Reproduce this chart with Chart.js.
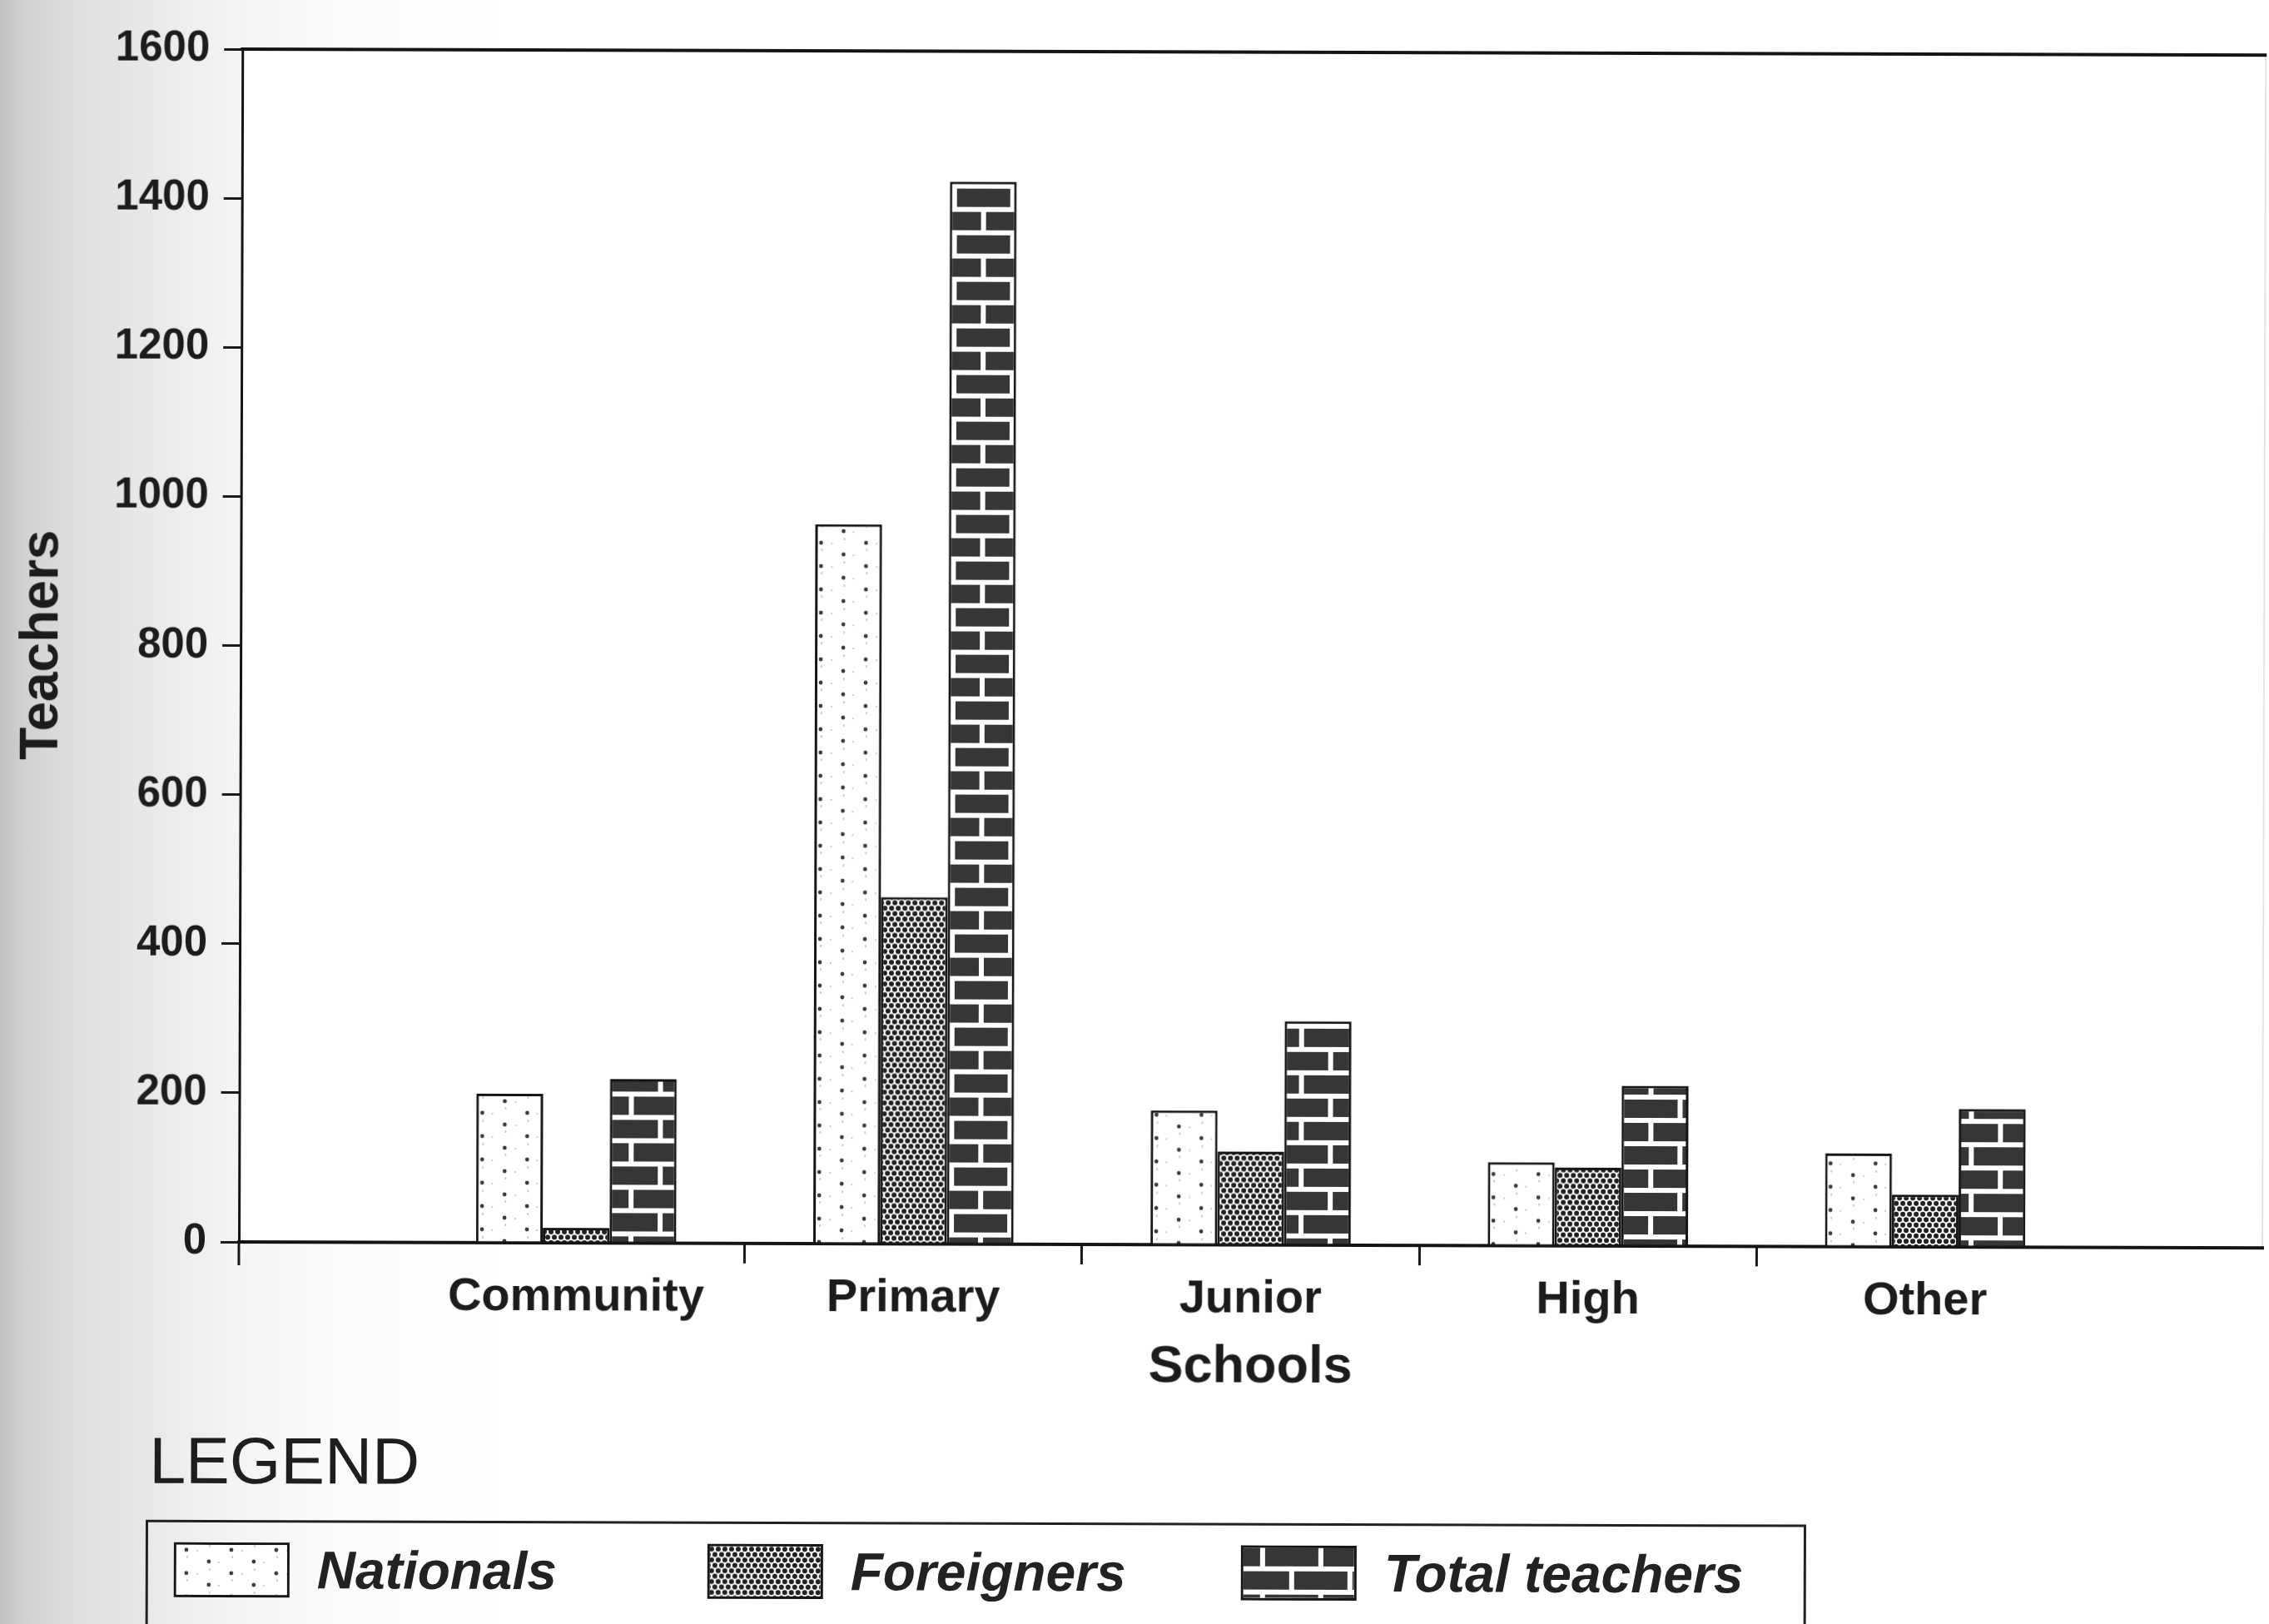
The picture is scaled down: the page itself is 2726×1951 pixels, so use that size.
<!DOCTYPE html>
<html>
<head>
<meta charset="utf-8">
<script src="https://cdn.jsdelivr.net/npm/chart.js@4.4.1/dist/chart.umd.min.js"></script>
<style>
  html, body { margin: 0; padding: 0; }
  body {
    width: 2726px; height: 1951px; overflow: hidden;
    background: linear-gradient(to right, #c2c2c2 0px, #d3d3d3 35px, #e1e1e1 105px, #ebebeb 200px, #f4f4f4 280px, #fcfcfc 420px, #ffffff 600px);
    font-family: "Liberation Sans", Arial, Helvetica, sans-serif;
  }
  #wrap { position: relative; width: 2726px; height: 1951px; transform-origin: 287px 1492px; transform: rotate(0.17deg); }
  #chart { position: absolute; left: 0; top: 0; }
  #legendTitle { position: absolute; left: 180px; top: 1715px; font-size: 79px; line-height: 1; color: #1e1e1e; }
  #legendBox { position: absolute; left: 176px; top: 1826px; width: 1995px; height: 240px; border: 3px solid #222; box-sizing: border-box; }
  #legendItems { position: absolute; left: 31px; top: 24px; display: flex; }
  .item { width: 641px; display: flex; align-items: center; }
  .sw { width: 139px; height: 66px; border: 3px solid #161616; box-sizing: border-box; display: block; }
  .lt { margin-left: 33px; font-size: 64px; font-weight: bold; font-style: italic; line-height: 66px; color: #222; white-space: nowrap; }
</style>
</head>
<body>
<div id="wrap">
  <canvas id="chart" width="2726" height="1700"></canvas>
  <div id="legendTitle">LEGEND</div>
  <div id="legendBox"><div id="legendItems"></div></div>
</div>
<script>
// ---- data ----
const categories = ['Community', 'Primary', 'Junior', 'High', 'Other'];
const nationals = [200, 965, 180, 112, 125];
const foreigners = [20, 465, 125, 105, 70];
const totalTeachers = [220, 1425, 300, 215, 185];
const seriesNames = ['Nationals', 'Foreigners', 'Total teachers'];
const seriesPatterns = ['dots', 'dense', 'brick'];
const yTicks = [0, 200, 400, 600, 800, 1000, 1200, 1400, 1600];

// padded category axis: half a slot of empty space on each side
const axisLabels = [''].concat(categories, ['']);
const pad = arr => [null].concat(arr, [null]);

// ---- fill patterns ----
function makePattern(kind, ctx) {
  const c = document.createElement('canvas');
  const g = c.getContext('2d');
  if (kind === 'dots') {
    c.width = 54; c.height = 28;
    g.fillStyle = '#ffffff'; g.fillRect(0, 0, 54, 28);
    g.fillStyle = '#cfcfcf';
    g.fillRect(12, 13, 2, 3); g.fillRect(39, 0, 2, 3); g.fillRect(24, 6, 2, 2); g.fillRect(50, 20, 2, 2);
    g.fillStyle = '#3a3a3a';
    g.beginPath(); g.arc(12, 6, 2.4, 0, Math.PI * 2); g.fill();
    g.beginPath(); g.arc(39, 20, 2.4, 0, Math.PI * 2); g.fill();
  } else if (kind === 'dense') {
    c.width = 8; c.height = 13;
    g.fillStyle = '#ffffff'; g.fillRect(0, 0, 8, 13);
    g.fillStyle = '#202020';
    const centers = [[2, 3.25], [6, 9.75]];
    centers.forEach(([cx, cy]) => {
      for (let dx = -8; dx <= 8; dx += 8) for (let dy = -13; dy <= 13; dy += 13) {
        g.beginPath(); g.arc(cx + dx, cy + dy, 3.0, 0, Math.PI * 2); g.fill();
      }
    });
  } else {
    c.width = 70; c.height = 56;
    g.fillStyle = '#ffffff'; g.fillRect(0, 0, 70, 56);
    g.fillStyle = '#363636';
    g.fillRect(0, 0, 20, 22); g.fillRect(26, 0, 44, 22);
    g.fillRect(0, 28, 55, 22); g.fillRect(61, 28, 9, 22);
  }
  return (ctx || g).createPattern(c, 'repeat');
}

const FONT = '"Liberation Sans", Arial, Helvetica, sans-serif';
const INK = '#1c1c1c';

const whiteArea = {
  id: 'whiteArea',
  beforeDraw(chart) {
    const { ctx, chartArea: a } = chart;
    ctx.save(); ctx.fillStyle = '#ffffff';
    ctx.fillRect(a.left, a.top, a.right - a.left, a.bottom - a.top);
    ctx.restore();
  }
};

const cornerTick = {
  id: 'cornerTick',
  afterDraw(chart) {
    const { ctx, chartArea: a } = chart;
    ctx.save(); ctx.strokeStyle = '#141414'; ctx.lineWidth = 3;
    ctx.beginPath(); ctx.moveTo(a.left, a.bottom); ctx.lineTo(a.left, a.bottom + 28); ctx.stroke();
    ctx.restore();
  }
};

const htmlLegend = {
  id: 'htmlLegend',
  afterUpdate(chart) {
    const host = document.getElementById('legendItems');
    host.innerHTML = '';
    chart.data.datasets.forEach((ds, i) => {
      const item = document.createElement('div'); item.className = 'item';
      const sw = document.createElement('canvas'); sw.className = 'sw'; sw.width = 133; sw.height = 60;
      const g = sw.getContext('2d');
      g.fillStyle = makePattern(seriesPatterns[i], g); g.fillRect(0, 0, 133, 60);
      const t = document.createElement('span'); t.className = 'lt'; t.textContent = ds.label;
      item.appendChild(sw); item.appendChild(t); host.appendChild(item);
    });
  }
};

const ctx = document.getElementById('chart').getContext('2d');
const seriesData = [nationals, foreigners, totalTeachers];

new Chart(ctx, {
  type: 'bar',
  data: {
    labels: axisLabels,
    datasets: seriesData.map((arr, i) => ({
      label: seriesNames[i],
      data: pad(arr),
      backgroundColor: makePattern(seriesPatterns[i], ctx),
      borderColor: '#151515',
      borderWidth: 3,
      borderSkipped: 'bottom'
    }))
  },
  options: {
    responsive: false,
    animation: false,
    devicePixelRatio: 1,
    layout: { padding: { top: 59, right: 4, left: 0, bottom: 0 } },
    datasets: { bar: { categoryPercentage: 0.594, barPercentage: 1.0 } },
    plugins: { legend: { display: false }, tooltip: { enabled: false }, title: { display: false } },
    scales: {
      x: {
        type: 'category', position: 'bottom', offset: false,
        grid: {
          offset: true, drawOnChartArea: false, drawTicks: true, tickLength: 24, lineWidth: 3,
          color: c => (c.index === 1 || c.index === axisLabels.length - 1) ? 'rgba(0,0,0,0)' : '#1a1a1a'
        },
        border: { display: true, color: '#141414', width: 4 },
        ticks: { font: { family: FONT, size: 56, weight: 'bold' }, color: INK, padding: 8, maxRotation: 0, autoSkip: false },
        title: { display: true, text: 'Schools', font: { family: FONT, size: 63, weight: 'bold' }, color: INK, padding: { top: 0, bottom: 23 } },
        afterFit: s => { s.height = 208; }
      },
      y: {
        type: 'linear', position: 'left', min: 0, max: 1600,
        afterBuildTicks: s => { s.ticks = yTicks.map(v => ({ value: v })); },
        grid: { drawOnChartArea: false, drawTicks: true, tickLength: 22, lineWidth: 3, color: '#1a1a1a' },
        border: { display: true, color: '#141414', width: 3 },
        ticks: { font: { family: FONT, size: 51, weight: 'bold' }, color: INK, padding: 17, callback: v => String(v) },
        title: { display: true, text: 'Teachers', font: { family: FONT, size: 64, weight: 'bold' }, color: INK, padding: { top: 11, bottom: 0 } },
        afterFit: s => { s.width = 287; }
      },
      x2: {
        type: 'category', position: 'top', offset: false,
        grid: { display: false, drawTicks: false },
        border: { display: true, color: '#141414', width: 4 },
        ticks: { display: false },
        afterFit: s => { s.height = 0; }
      },
      y2: {
        type: 'linear', position: 'right', min: 0, max: 1600,
        grid: { display: false, drawTicks: false },
        border: { display: true, color: 'rgba(0,0,0,0.1)', width: 2 },
        ticks: { display: false },
        afterFit: s => { s.width = 0; }
      }
    }
  },
  plugins: [whiteArea, cornerTick, htmlLegend]
});
</script>
</body>
</html>
